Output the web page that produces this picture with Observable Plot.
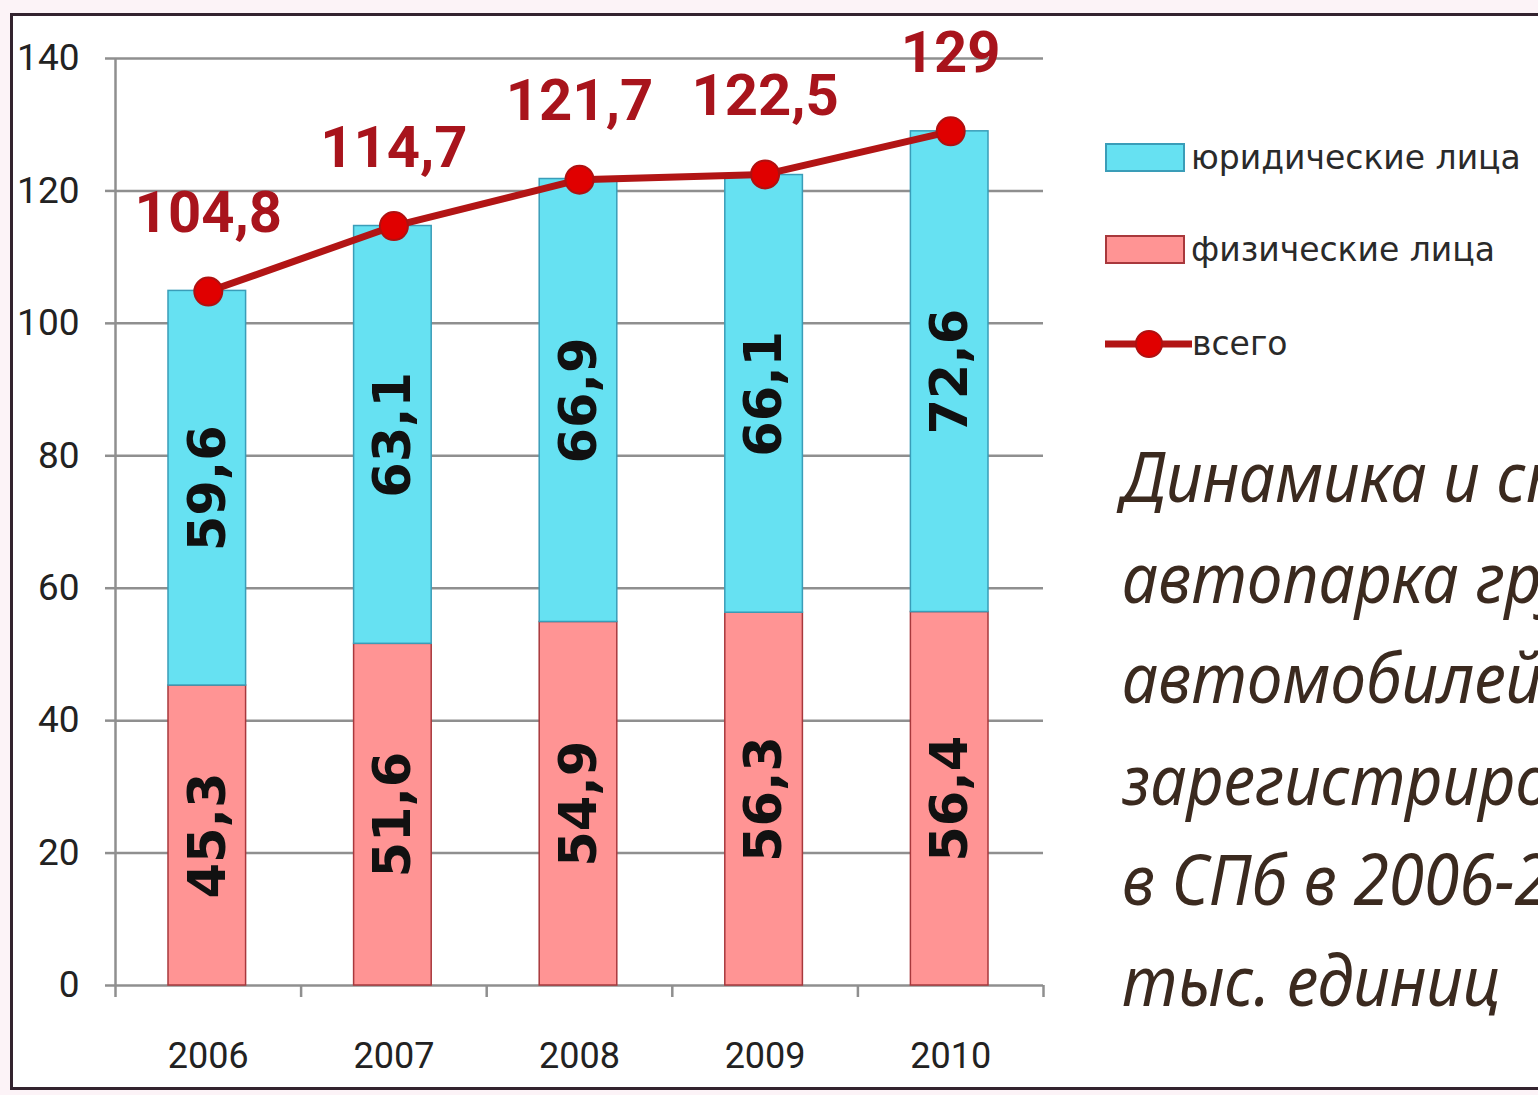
<!DOCTYPE html>
<html>
<head>
<meta charset="utf-8">
<script src="https://cdn.jsdelivr.net/npm/d3@7"></script>
<script src="https://cdn.jsdelivr.net/npm/@observablehq/plot@0.6"></script>
<style>
  html, body { margin: 0; padding: 0; width: 1538px; height: 1095px; overflow: hidden; background: #fcf3f7; }
  #frame { position: absolute; left: 10px; top: 13px; width: 1600px; height: 1077px; box-sizing: border-box;
           border: 3px solid #33232f; background: #ffffff; }
  #chart { position: absolute; left: 13px; top: 16px; }
  #legend { position: absolute; left: 1105px; top: 0; font-family: "DejaVu Sans", sans-serif; font-size: 33px; color: #2a2a2a; }
  .row { position: absolute; left: 0; display: flex; align-items: center; white-space: nowrap; }
  .sw { width: 80px; height: 29px; box-sizing: border-box; margin-right: 6px; }
  #caption { position: absolute; left: 1122px; top: 425px; font-family: "Noto Sans", sans-serif;
             font-style: italic; font-size: 64px; line-height: 91.5px; color: #3b2a1f; white-space: nowrap;
             transform: scaleY(1.1); transform-origin: top left; }
</style>
</head>
<body>
<div id="frame"></div>
<div id="chart"></div>
<div id="legend"></div>
<div id="caption"></div>
<script>
// ---- data ----
const years = [2006, 2007, 2008, 2009, 2010];
const fizLica = [45.3, 51.6, 54.9, 56.3, 56.4];     // физические лица
const yurLica = [59.6, 63.1, 66.9, 66.1, 72.6];     // юридические лица
const vsego   = [104.8, 114.7, 121.7, 122.5, 129];  // всего
const seriesNames = ["юридические лица", "физические лица", "всего"];
const seriesColors = ["#66e1f2", "#ff9494", "#b21515"];
const seriesStrokes = ["#3a9db8", "#a8383c", "#b21515"];
const yTicks = [0, 20, 40, 60, 80, 100, 120, 140];
const captionLines = ["Динамика и структура", "автопарка грузовых", "автомобилей,", "зарегистрированных", "в СПб в 2006-2010 гг.,", "тыс. единиц"];

const fmt = v => String(v).replace(".", ",");

// stacked table
const rows = years.flatMap((yr, i) => [
  {year: yr, cat: seriesNames[1], value: fizLica[i], y1: 0, y2: fizLica[i]},
  {year: yr, cat: seriesNames[0], value: yurLica[i], y1: fizLica[i], y2: fizLica[i] + yurLica[i]}
]);
const totals = years.map((yr, i) => ({year: yr, total: vsego[i]}));
const bounds = years.map(y => y - 0.5).concat([years[years.length - 1] + 0.5]);

const tickFont = "Roboto, 'DejaVu Sans', sans-serif";

const plot = Plot.plot({
  width: 1047,
  height: 1071,
  marginLeft: 102,
  marginRight: 17,
  marginTop: 42,
  marginBottom: 102,
  style: {background: "transparent", overflow: "visible", fontFamily: tickFont},
  x: {domain: [bounds[0], bounds[bounds.length - 1]], axis: null},
  y: {domain: [0, 140], axis: null},
  color: {domain: [seriesNames[0], seriesNames[1]], range: [seriesColors[0], seriesColors[1]]},
  marks: [
    Plot.gridY(yTicks, {stroke: "#8f8f8f", strokeOpacity: 1, strokeWidth: 2.5}),
    Plot.axisY({ticks: yTicks, tickSize: 10, tickPadding: 26, stroke: "#8f8f8f", strokeWidth: 2.5,
                fontSize: 37, fill: "#222", fontFamily: tickFont, label: null}),
    Plot.axisX({ticks: bounds, tickSize: 12, tickFormat: () => "", stroke: "#8f8f8f", strokeWidth: 2.5, label: null}),
    Plot.ruleX([bounds[0]], {stroke: "#8f8f8f", strokeWidth: 2.5}),
    Plot.axisX({ticks: years, tickSize: 0, tickPadding: 57, tickFormat: d => String(d),
                fontSize: 36, fill: "#222", fontFamily: tickFont, label: null}),
    Plot.rectY(rows, {
      x1: d => d.year - 0.5, x2: d => d.year + 0.5, y1: "y1", y2: "y2",
      fill: "cat", insetLeft: 53, insetRight: 55,
      stroke: d => d.cat === seriesNames[0] ? seriesStrokes[0] : seriesStrokes[1], strokeWidth: 1.5
    }),
    Plot.text(rows, {
      x: "year", y: d => (d.y1 + d.y2) / 2, text: d => fmt(d.value), rotate: -90,
      fontSize: 51, fontWeight: "bold", fill: "#111", fontFamily: "DejaVu Sans, sans-serif"
    }),
    Plot.line(totals, {x: "year", y: "total", stroke: seriesColors[2], strokeWidth: 7}),
    Plot.dot(totals, {x: "year", y: "total", r: 14, fill: "#e00000", stroke: "#b01010", strokeWidth: 2}),
    Plot.text(totals, {x: "year", y: "total", text: d => fmt(d.total), dy: -78,
      fontSize: 58, fontWeight: "bold", fill: "#a8141c", fontFamily: tickFont})
  ]
});
document.getElementById("chart").appendChild(plot);

// legend
const legend = document.getElementById("legend");
const rowTops = [138, 230, 324];
seriesNames.forEach((name, i) => {
  const r = document.createElement("div");
  r.className = "row";
  r.style.top = rowTops[i] + "px";
  if (i < 2) {
    const sw = document.createElement("div");
    sw.className = "sw";
    sw.style.background = seriesColors[i];
    sw.style.border = "2px solid " + seriesStrokes[i];
    r.appendChild(sw);
  } else {
    const ns = "http://www.w3.org/2000/svg";
    const s = document.createElementNS(ns, "svg");
    s.setAttribute("width", 87); s.setAttribute("height", 32);
    const l = document.createElementNS(ns, "line");
    l.setAttribute("x1", 0); l.setAttribute("x2", 87); l.setAttribute("y1", 16); l.setAttribute("y2", 16);
    l.setAttribute("stroke", seriesColors[2]); l.setAttribute("stroke-width", 7);
    const c = document.createElementNS(ns, "circle");
    c.setAttribute("cx", 44); c.setAttribute("cy", 16); c.setAttribute("r", 13);
    c.setAttribute("fill", "#e00000"); c.setAttribute("stroke", "#b01010"); c.setAttribute("stroke-width", 2);
    s.appendChild(l); s.appendChild(c);
    r.appendChild(s);
  }
  const t = document.createElement("span");
  t.textContent = name;
  r.appendChild(t);
  legend.appendChild(r);
});

// caption
document.getElementById("caption").innerHTML = captionLines.map(s => `<div>${s}</div>`).join("");
</script>
</body>
</html>
